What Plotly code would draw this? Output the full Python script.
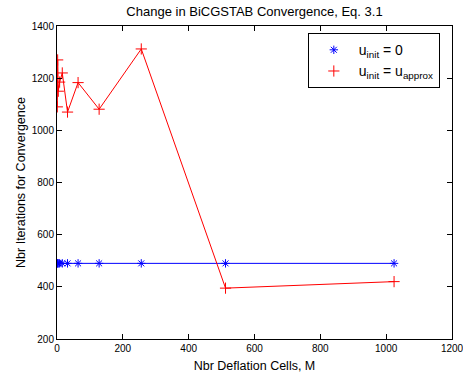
import plotly.graph_objects as go

cells = [1, 2, 4, 8, 16, 32, 64, 128, 256, 512, 1024]
iters_zero = [490, 490, 490, 490, 490, 490, 490, 490, 490, 490, 490]
iters_approx = [1090, 1270, 1150, 1185, 1220, 1070, 1183, 1081, 1312, 395, 420]

FONT = "Liberation Sans, Arial, Helvetica, sans-serif"

fig = go.Figure()
fig.add_trace(go.Scatter(x=cells, y=iters_zero, mode="lines",
                         line=dict(color="#0000ff", width=1), showlegend=False, hoverinfo="skip"))
fig.add_trace(go.Scatter(x=cells, y=iters_zero, mode="markers",
                         marker=dict(symbol="asterisk-open", size=7, color="#0000ff",
                                     line=dict(color="#0000ff", width=1)),
                         name="u<sub>init</sub> = 0"))
fig.add_trace(go.Scatter(x=cells, y=iters_approx, mode="lines",
                         line=dict(color="#ff0000", width=1), showlegend=False, hoverinfo="skip"))
fig.add_trace(go.Scatter(x=cells, y=iters_approx, mode="markers",
                         marker=dict(symbol="cross-thin-open", size=8, color="#ff0000",
                                     line=dict(color="#ff0000", width=1)),
                         name="u<sub>init</sub> = u<sub>approx</sub>"))

axis_common = dict(showgrid=False, zeroline=False, showline=True, linecolor="black",
                   linewidth=1, mirror="ticks", ticks="inside", ticklen=5,
                   tickcolor="black", automargin=False, ticklabeloverflow="allow",
                   tickfont=dict(size=10, color="black", family=FONT))

fig.update_layout(
    width=463, height=383,
    margin=dict(l=57, r=11, t=26, b=44, autoexpand=False),
    paper_bgcolor="white", plot_bgcolor="white",
    font=dict(family=FONT, color="black"),
    title=dict(text="Change in BiCGSTAB Convergence, Eq. 3.1", x=0.5, xref="paper",
               y=1 - 11 / 383, yref="container", yanchor="middle",
               font=dict(size=13, color="black", family=FONT)),
    xaxis=dict(range=[0, 1200], dtick=200, tick0=0,
               title=dict(text="Nbr Deflation Cells, M", standoff=8,
                          font=dict(size=12.5, color="black", family=FONT)),
               **axis_common),
    yaxis=dict(range=[200, 1400], dtick=200, tick0=200,
               title=dict(text="Nbr Iterations for Convergence", standoff=3,
                          font=dict(size=12.5, color="black", family=FONT)),
               **axis_common),
    legend=dict(x=0.635, y=0.977, xanchor="left", yanchor="top",
                bgcolor="white", bordercolor="black", borderwidth=1,
                font=dict(size=14, color="black", family=FONT),
                itemwidth=40, tracegroupgap=5),
)

fig.write_html("out.html", config={"displayModeBar": False},
               post_script="document.body.style.margin='0';document.body.style.padding='0';")
